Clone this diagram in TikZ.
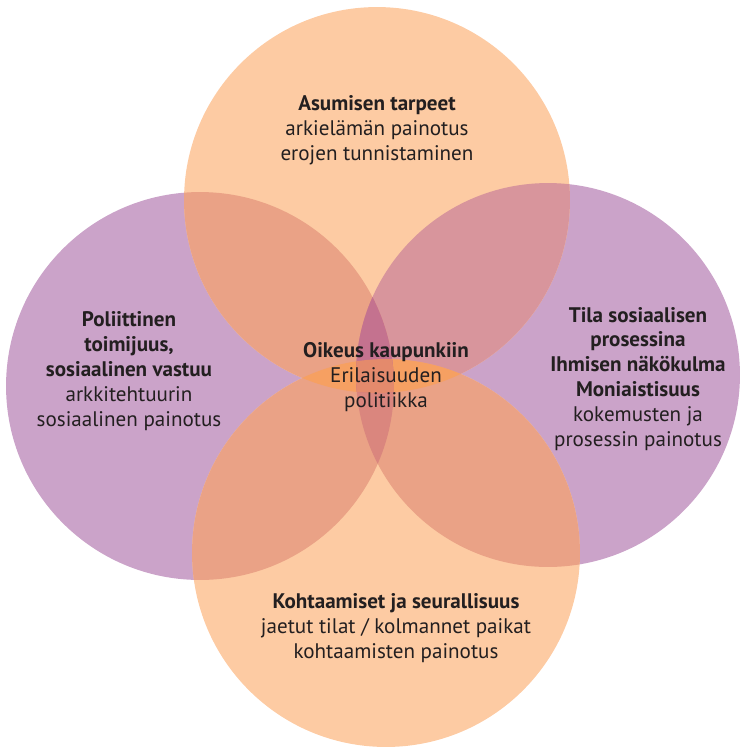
\documentclass[tikz,border=0pt]{standalone}
\usepackage{fontspec}
\setmainfont{PT Sans}
\usepackage{xcolor}
\definecolor{peach}{HTML}{FDCBA3}
\definecolor{lilac}{HTML}{CBA3C9}
\definecolor{salmon}{HTML}{EAA286}
\definecolor{rosy}{HTML}{D8959C}
\definecolor{tangerine}{HTML}{F6A062}
\definecolor{mauve}{HTML}{C4728F}
\definecolor{brick}{HTML}{DA867E}
\definecolor{coral}{HTML}{E48A6C}
\definecolor{ink}{HTML}{231F20}
\tikzset{
    venn-text/.style = {align=center, text=ink, inner sep=0pt, font=\fontsize{12}{14.2}\selectfont},
}
% the four circles
\def\circTop{(377,200) circle (3.86cm)}
\def\circLeft{(200,386) circle (3.88cm)}
\def\circRight{(548,375) circle (3.84cm)}
\def\circBottom{(386,553) circle (3.88cm)}

\begin{document}
\begin{tikzpicture}[x=0.02cm, y=-0.02cm]
\useasboundingbox (0,0) rectangle (740,752);
\clip (0,0) rectangle (740,752);

% base discs
\fill[lilac] \circLeft;
\fill[lilac] \circRight;
\fill[peach] \circTop;
\fill[peach] \circBottom;

% overlaps of two
\begin{scope}
    \clip \circTop;
    \fill[salmon] \circLeft;
    \fill[rosy] \circRight;
\end{scope}
\begin{scope}
    \clip \circBottom;
    \fill[salmon] \circLeft;
    \fill[salmon] \circRight;
\end{scope}
\begin{scope}
    \clip \circTop;
    \fill[tangerine] \circBottom;
\end{scope}

% middle lens of the purple discs
\begin{scope}
    \clip \circLeft;
    \fill[brick] \circRight;
    \clip \circRight;
    \fill[mauve] \circTop;
    \clip \circTop;
    \fill[coral] \circBottom;
\end{scope}

% texts
\node[venn-text] (top) at (377,130) {\textbf{Asumisen tarpeet}\\arkielämän painotus\\erojen tunnistaminen};
\node[venn-text] (left) at (129,371) {\textbf{Poliittinen}\\\textbf{toimijuus,}\\\textbf{sosiaalinen vastuu}\\arkkitehtuurin\\sosiaalinen painotus};
\node[venn-text] (right) at (638,379) {\textbf{Tila sosiaalisen}\\\textbf{prosessina}\\\textbf{Ihmisen näkökulma}\\\textbf{Moniaistisuus}\\kokemusten ja\\prosessin painotus};
\node[venn-text] (centre) at (386,377) {\textbf{Oikeus kaupunkiin}\\Erilaisuuden\\politiikka};
\node[venn-text] (bottom) at (396,628) {\textbf{Kohtaamiset ja seurallisuus}\\jaetut tilat / kolmannet paikat\\kohtaamisten painotus};
\end{tikzpicture}
\end{document}
